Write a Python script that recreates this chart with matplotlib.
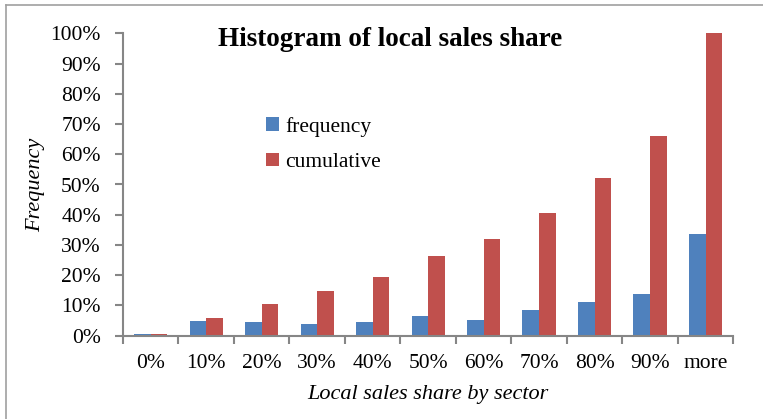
import matplotlib
matplotlib.use("Agg")
import matplotlib.pyplot as plt
from matplotlib.lines import Line2D
import numpy as np

categories = ["0%", "10%", "20%", "30%", "40%", "50%", "60%", "70%", "80%", "90%", "more"]
frequency = [0.5, 5.0, 4.4, 3.8, 4.4, 6.5, 5.2, 8.5, 11.2, 13.9, 33.5]
cumulative = [0.5, 5.8, 10.6, 14.7, 19.5, 26.3, 31.9, 40.5, 52.0, 66.0, 100.0]
yticks = [0, 10, 20, 30, 40, 50, 60, 70, 80, 90, 100]

plt.rcParams['font.family'] = ['Liberation Serif', 'DejaVu Serif']

W, H = 763, 419
fig = plt.figure(figsize=(W/100, H/100), dpi=100)
ax = fig.add_axes([123/W, 1-335.7/H, (733.3-123)/W, (335.7-33.3)/H])

x = np.arange(len(categories))
bw = 0.3
ax.bar(x - bw/2, frequency, bw, color="#4F81BD", label="frequency", linewidth=0)
ax.bar(x + bw/2, cumulative, bw, color="#C0504D", label="cumulative", linewidth=0)

ax.set_xlim(-0.5, len(categories) - 0.5)
ax.set_ylim(0, 100)
ax.set_yticks(yticks)
ax.set_yticklabels([f"{v}%" for v in yticks], fontsize=15.5)
ax.set_xticks(x)
ax.set_xticklabels(categories, fontsize=15.5)
ax.tick_params(axis='x', length=0, pad=13.5)
ax.set_xticks(np.arange(-0.5, len(categories)), minor=True)
ax.tick_params(axis='x', which='minor', length=6, color='#868686', width=1.5)
ax.tick_params(axis='y', length=6, color='#868686', width=1.5, pad=10)

for s in ['top', 'right']:
    ax.spines[s].set_visible(False)
for s in ['left', 'bottom']:
    ax.spines[s].set_color('#868686')
    ax.spines[s].set_linewidth(1.5)

fig.text(428/W, 1-394/H, "Local sales share by sector", fontsize=16, style='italic',
         ha='center', va='center')
fig.text(36/W, 1-185/H, "Frequency", fontsize=16, style='italic', rotation=90,
         ha='center', va='center')

fig.text(390/W, 1-40/H, "Histogram of local sales share", fontsize=19.5, fontweight='bold',
         ha='center', va='center')

ax.legend(loc='upper left', bbox_to_anchor=((255-123)/(733.3-123), (335.7-106)/(335.7-33.3)),
          frameon=False, fontsize=15.5, handlelength=0.6, handleheight=0.6,
          handletextpad=0.3, labelspacing=0.75, borderpad=0)

# figure border (left and top visible)
fig.add_artist(Line2D([6/W, 6/W], [0, 1-5/H], transform=fig.transFigure, color='#A0A0A0', lw=1.2))
fig.add_artist(Line2D([6/W, 1], [1-5/H, 1-5/H], transform=fig.transFigure, color='#A0A0A0', lw=1.2))

fig.savefig("out.png", dpi=100)
